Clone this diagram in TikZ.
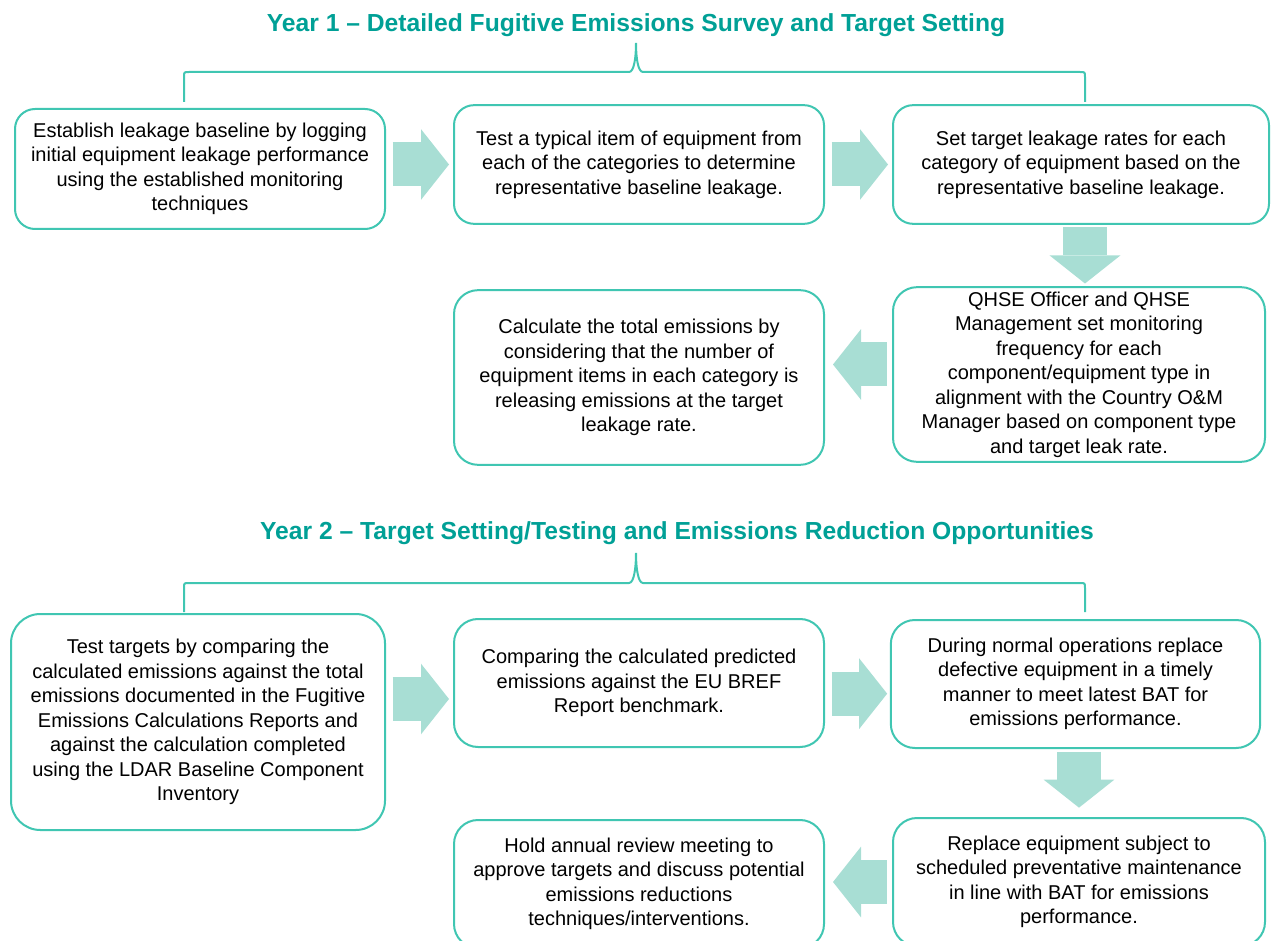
\documentclass[tikz,border=0pt]{standalone}
\usepackage{fontspec}
\setmainfont{Liberation Sans}
\usepackage{tikz}
\usetikzlibrary{arrows.meta,calc}
\definecolor{tealtitle}{HTML}{00A096}
\definecolor{boxline}{HTML}{40C6B2}
\definecolor{arrowfill}{HTML}{A8DED4}
\newcommand{\bodyfont}{\fontsize{15}{18.4}\selectfont}
\newcommand{\titlefont}{\fontsize{18.5}{22}\selectfont\bfseries}

\begin{document}
\begin{tikzpicture}[
    x=0.75pt, y=-0.75pt,
    stepbox/.style={
      rectangle,
      rounded corners=15pt,
      draw=boxline,
      line width=1.5pt,
      fill=white,
      align=center,
      inner sep=0pt,
      font=\bodyfont},
    blockarrow/.style={
      draw=arrowfill,
      line width=33pt,
      -{Triangle[length=21pt,width=53pt,line width=0pt]}},
    yeartitle/.style={
      text=tealtitle,
      font=\titlefont},
    yearbrace/.style={
      draw=boxline,
      line width=1.5pt}]
  \useasboundingbox (0,0) rectangle (1272,941);
  \clip (0,0) rectangle (1272,941);

  % year 1
  \coordinate (A1) at (200,169);
  \coordinate (A2) at (639,164.5);
  \coordinate (A3) at (1081,164.5);
  \coordinate (A4) at (1079,374.5);
  \coordinate (A5) at (639,377.5);

  \node[yeartitle] at (636,25) (t1) {Year 1 – Detailed Fugitive Emissions Survey and Target Setting};
  \draw[yearbrace] (184,102) -- (184,77) .. controls (184,72) .. (189,72) -- (629,72)
    .. controls (634,72) and (636,58) .. (636,43)
    .. controls (636,58) and (638,72) .. (643,72) -- (1080,72) .. controls (1085,72) .. (1085,77) -- (1085,102);

  \node[
    stepbox,
    minimum width=277.5pt,
    minimum height=90pt] at (A1) (a1) {Establish leakage baseline by logging\\initial equipment leakage performance\\using the established monitoring\\techniques};
  \node[
    stepbox,
    minimum width=277.5pt,
    minimum height=89pt] at (A2) (a2) {Test a typical item of equipment from\\each of the categories to determine\\representative baseline leakage.};
  \node[
    stepbox,
    minimum width=282pt,
    minimum height=89pt] at (A3) (a3) {Set target leakage rates for each\\category of equipment based on the\\representative baseline leakage.};
  \node[
    stepbox,
    rounded corners=18pt,
    minimum width=279pt,
    minimum height=131pt] at (A4) (a4) {QHSE Officer and QHSE\\Management set monitoring\\frequency for each\\component/equipment type in\\alignment with the Country O\&M\\Manager based on component type\\and target leak rate.};
  \node[
    stepbox,
    rounded corners=18pt,
    minimum width=277.5pt,
    minimum height=131pt] at (A5) (a5) {Calculate the total emissions by\\considering that the number of\\equipment items in each category is\\releasing emissions at the target\\leakage rate.};

  \draw[blockarrow,shorten <=5pt,shorten >=3pt] (a2.west -| a1.east) to (a2.west);
  \draw[blockarrow,shorten <=5pt,shorten >=3pt] (a2.east) to (a3.west);
  \draw[blockarrow,shorten <=2pt,shorten >=2pt] ([xshift=3pt]a3.south) to ([xshift=3pt]a3.south |- a4.north);
  \draw[blockarrow,shorten <=4pt,shorten >=6pt] ([yshift=7.5pt]a4.west) to ([yshift=7.5pt]a4.west -| a5.east);

  % year 2
  \coordinate (B1) at (198,722);
  \coordinate (B2) at (639,683);
  \coordinate (B3) at (1075.5,684);
  \coordinate (B4) at (1079,882);
  \coordinate (B5) at (639,884);

  \node[yeartitle] at (677,533) (t2) {Year 2 – Target Setting/Testing and Emissions Reduction Opportunities};
  \draw[yearbrace] (184,612) -- (184,588) .. controls (184,583) .. (189,583) -- (629,583)
    .. controls (634,583) and (636,568) .. (636,553)
    .. controls (636,568) and (638,583) .. (643,583) -- (1080,583) .. controls (1085,583) .. (1085,588) -- (1085,612);

  \node[
    stepbox,
    rounded corners=22pt,
    minimum width=280.5pt,
    minimum height=162pt] at (B1) (b1) {Test targets by comparing the\\calculated emissions against the total\\emissions documented in the Fugitive\\Emissions Calculations Reports and\\against the calculation completed\\using the LDAR Baseline Component\\Inventory};
  \node[
    stepbox,
    rounded corners=18pt,
    minimum width=277.5pt,
    minimum height=96pt] at (B2) (b2) {Comparing the calculated predicted\\emissions against the EU BREF\\Report benchmark.};
  \node[
    stepbox,
    rounded corners=18pt,
    minimum width=277pt,
    minimum height=96pt] at (B3) (b3) {During normal operations replace\\defective equipment in a timely\\manner to meet latest BAT for\\emissions performance.};
  \node[
    stepbox,
    rounded corners=18pt,
    minimum width=279pt,
    minimum height=96pt] at (B4) (b4) {Replace equipment subject to\\scheduled preventative maintenance\\in line with BAT for emissions\\performance.};
  \node[
    stepbox,
    rounded corners=18pt,
    minimum width=277.5pt,
    minimum height=96pt] at (B5) (b5) {Hold annual review meeting to\\approve targets and discuss potential\\emissions reductions\\techniques/interventions.};

  \draw[blockarrow,shorten <=5pt,shorten >=3pt] ([yshift=-12pt]b2.west -| b1.east) to ([yshift=-12pt]b2.west);
  \draw[blockarrow,shorten <=5pt,shorten >=2pt] ([yshift=-8pt]b2.east) to ([yshift=-8pt]b2.east -| b3.west);
  \draw[blockarrow,shorten <=2pt,shorten >=7pt] (b4.north |- b3.south) to (b4.north);
  \draw[blockarrow,shorten <=4pt,shorten >=6pt] (b4.west) to (b4.west -| b5.east);

\end{tikzpicture}
\end{document}
